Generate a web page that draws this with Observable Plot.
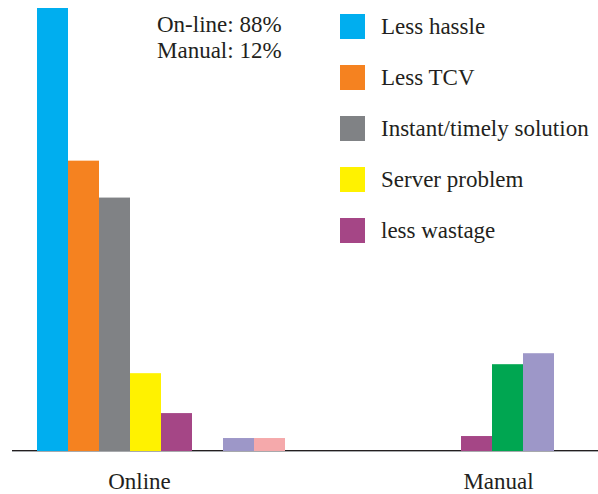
<!DOCTYPE html>
<html>
<head>
<meta charset="utf-8">
<script src="https://cdn.jsdelivr.net/npm/d3@7"></script>
<script src="https://cdn.jsdelivr.net/npm/@observablehq/plot@0.6"></script>
<style>
  html, body { margin: 0; padding: 0; background: #fff; }
  #wrap { position: relative; width: 598px; height: 494px; font-family: "Liberation Serif", "Times New Roman", serif; color: #231f20; }
  #wrap svg { position: absolute; left: 0; top: 0; }
  .share { position: absolute; left: 157px; top: 12px; font-size: 23px; line-height: 26px; }
  .legend { position: absolute; left: 340px; top: 14px; display: flex; flex-direction: column; gap: 26px; font-size: 23px; }
  .row { position: relative; height: 25px; }
  .sw { position: absolute; left: 0; top: 0; width: 25px; height: 25px; }
  .lab { position: absolute; left: 41px; top: 0; line-height: 25px; white-space: nowrap; }
</style>
</head>
<body>
<div id="wrap"></div>
<script>
// Data
const groups = ["Online", "Manual"];
const series = ["Less hassle", "Less TCV", "Instant/timely solution", "Server problem", "less wastage", "Other A", "Other B", "Other C"];
const colors = ["#00aeef", "#f58220", "#808285", "#fff200", "#a54686", "#00a651", "#9d97c8", "#f5a9ab"];
const onlineValues = [444, 291, 254, 78, 38, 0, 13, 13];
const manualValues = [0, 0, 0, 0, 15, 87, 98, 0];
const legendSeries = ["Less hassle", "Less TCV", "Instant/timely solution", "Server problem", "less wastage"];
const shareLines = ["On-line: 88%", "Manual: 12%"];

const data = [];
series.forEach((s, i) => {
  data.push({group: "Online", series: s, value: onlineValues[i]});
  data.push({group: "Manual", series: s, value: manualValues[i]});
});

const chart = Plot.plot({
  width: 598,
  height: 494,
  marginLeft: 12,
  marginRight: 0,
  marginTop: 8,
  marginBottom: 43,
  style: {fontFamily: "'Liberation Serif', 'Times New Roman', serif", fontSize: "23px", color: "#231f20", background: "#fff"},
  fx: {domain: groups, paddingInner: 0.1733, paddingOuter: 0.0633, align: 0.658, axis: null},
  x: {domain: series, padding: 0, axis: null},
  y: {domain: [0, 444], axis: null},
  color: {domain: series, range: colors},
  marks: [
    Plot.frame({facet: "super", anchor: "bottom", stroke: "#231f20", strokeWidth: 1, dy: -1, insetLeft: -25, insetRight: -13}),
    Plot.barY(data, {fx: "group", x: "series", y: "value", fill: "series"}),
    Plot.frame({facet: "super", anchor: "bottom", stroke: "#a7a9ac", strokeWidth: 1, insetLeft: -25, insetRight: -13}),
    Plot.text(["Online"], {fx: d => d, x: () => "Server problem", frameAnchor: "bottom", dy: 30, dx: -6.5, lineAnchor: "middle", fill: "#231f20", fontSize: 23}),
    Plot.text(["Manual"], {fx: d => d, x: () => "Other A", frameAnchor: "bottom", dy: 30, dx: -9.5, lineAnchor: "middle", fill: "#231f20", fontSize: 23})
  ]
});

const wrap = document.getElementById("wrap");
wrap.appendChild(chart);

const share = document.createElement("div");
share.className = "share";
share.innerHTML = shareLines.map(t => `<div>${t}</div>`).join("");
wrap.appendChild(share);

const legend = document.createElement("div");
legend.className = "legend";
legendSeries.forEach(s => {
  const row = document.createElement("div");
  row.className = "row";
  row.innerHTML = `<div class="sw" style="background:${colors[series.indexOf(s)]}"></div><div class="lab">${s}</div>`;
  legend.appendChild(row);
});
wrap.appendChild(legend);
</script>
</body>
</html>
